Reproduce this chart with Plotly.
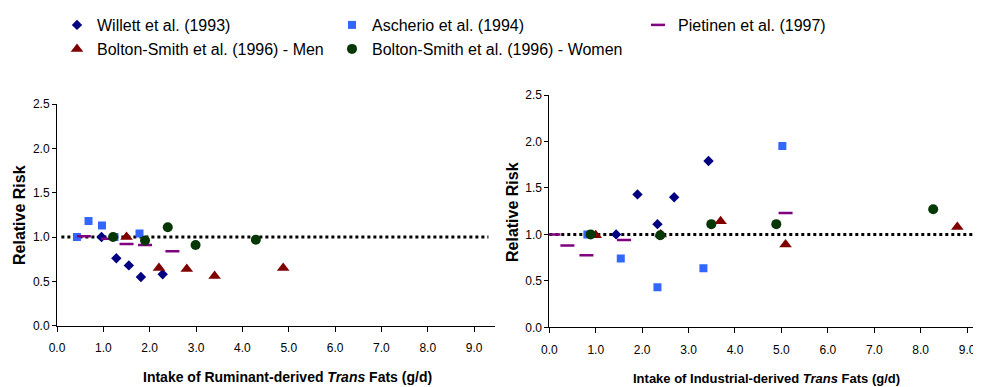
import plotly.graph_objects as go

# ---------------- data ----------------
# Ruminant-derived trans fats (left panel)
rum_willett_x = [0.96, 1.28, 1.55, 1.81, 2.28]
rum_willett_y = [1.00, 0.76, 0.68, 0.55, 0.58]
rum_ascherio_x = [0.43, 0.68, 0.97, 1.24, 1.78]
rum_ascherio_y = [1.00, 1.18, 1.13, 1.00, 1.04]
rum_pietinen_x = [0.58, 1.10, 1.50, 1.90, 2.49]
rum_pietinen_y = [1.01, 0.98, 0.92, 0.91, 0.84]
rum_men_x = [1.50, 2.20, 2.80, 3.40, 4.88]
rum_men_y = [1.00, 0.65, 0.64, 0.56, 0.65]
rum_women_x = [1.21, 1.90, 2.39, 2.99, 4.29]
rum_women_y = [1.00, 0.96, 1.11, 0.91, 0.97]

# Industrial-derived trans fats (right panel)
ind_willett_x = [1.44, 1.90, 2.33, 2.69, 3.43]
ind_willett_y = [1.00, 1.43, 1.11, 1.40, 1.79]
ind_ascherio_x = [0.82, 1.54, 2.33, 3.32, 5.02]
ind_ascherio_y = [1.00, 0.74, 0.43, 0.635, 1.95]
ind_pietinen_x = [0.09, 0.39, 0.80, 1.61, 5.09]
ind_pietinen_y = [1.00, 0.88, 0.775, 0.94, 1.23]
ind_men_x = [1.00, 2.40, 3.69, 5.09, 8.79]
ind_men_y = [0.99, 1.00, 1.14, 0.89, 1.08]
ind_women_x = [0.89, 2.39, 3.49, 4.89, 8.27]
ind_women_y = [1.00, 0.99, 1.11, 1.11, 1.27]

reference_rr = 1.0

x_tick_vals = [0, 1, 2, 3, 4, 5, 6, 7, 8, 9]
x_tick_text = ["0.0", "1.0", "2.0", "3.0", "4.0", "5.0", "6.0", "7.0", "8.0", "9.0"]
y_tick_vals = [0, 0.5, 1.0, 1.5, 2.0, 2.5]
y_tick_text = ["0.0", "0.5", "1.0", "1.5", "2.0", "2.5"]

series_names = [
    "Willett et al. (1993)",
    "Ascherio et al. (1994)",
    "Pietinen et al. (1997)",
    "Bolton-Smith et al. (1996) - Men",
    "Bolton-Smith et al. (1996) - Women",
]

# ---------------- styles ----------------
FONT = "Liberation Sans, Arial, sans-serif"
styles = [
    dict(symbol="diamond", size=8, color="#000080"),
    dict(symbol="square", size=8, color="#3366FF"),
    dict(symbol="line-ew", size=10, color="#800080"),
    dict(symbol="triangle-up", size=11, color="#800000"),
    dict(symbol="circle", size=10, color="#063806"),
]
legend_ids = ["legend", "legend2", "legend3", "legend4", "legend5"]

left = [(rum_willett_x, rum_willett_y), (rum_ascherio_x, rum_ascherio_y),
        (rum_pietinen_x, rum_pietinen_y), (rum_men_x, rum_men_y),
        (rum_women_x, rum_women_y)]
right = [(ind_willett_x, ind_willett_y), (ind_ascherio_x, ind_ascherio_y),
         (ind_pietinen_x, ind_pietinen_y), (ind_men_x, ind_men_y),
         (ind_women_x, ind_women_y)]

fig = go.Figure()


def marker_of(st):
    m = dict(symbol=st["symbol"], size=st["size"], color=st["color"])
    if st["symbol"] == "line-ew":
        m["line"] = dict(color=st["color"], width=2.5)
    else:
        m["line"] = dict(width=0)
    return m


for i, (name, st) in enumerate(zip(series_names, styles)):
    xs, ys = left[i]
    fig.add_trace(go.Scatter(x=xs, y=ys, mode="markers", name=name,
                             marker=marker_of(st), xaxis="x", yaxis="y",
                             legend=legend_ids[i], showlegend=True))
    xs, ys = right[i]
    fig.add_trace(go.Scatter(x=xs, y=ys, mode="markers", name=name,
                             marker=marker_of(st), xaxis="x2", yaxis="y2",
                             showlegend=False))

# page body has an 8px margin: lay the figure out in window pixels minus it
OFF = 8
W, H = 981 - OFF, 387 - OFF


def px_x(p):
    return (p - OFF) / W


def px_y(p):
    return 1 - (p - OFF) / H


axis_common = dict(showline=True, linecolor="black", linewidth=1,
                   ticks="outside", tickcolor="black", ticklen=5,
                   showgrid=False, zeroline=False, automargin=False,
                   tickfont=dict(family=FONT, size=12, color="black"))

fig.update_layout(
    width=W, height=H,
    margin=dict(l=0, r=0, t=0, b=0, autoexpand=False),
    paper_bgcolor="white", plot_bgcolor="white",
    font=dict(family=FONT, color="black"),
    xaxis=dict(domain=[px_x(57), px_x(495)], range=[0, 9.45], anchor="y",
               tickvals=x_tick_vals, ticktext=x_tick_text,
               ticklabelstandoff=6, **axis_common),
    yaxis=dict(domain=[px_y(325.7), px_y(104)], range=[0, 2.5], anchor="x",
               tickvals=y_tick_vals, ticktext=y_tick_text, **{**axis_common, "ticklen": 4}),
    xaxis2=dict(domain=[px_x(549.3), 1.0], range=[0, 9.30], anchor="y2",
                tickvals=x_tick_vals, ticktext=x_tick_text,
                ticklabelstandoff=6, **axis_common),
    yaxis2=dict(domain=[px_y(327.3), px_y(95)], range=[0, 2.5], anchor="x2",
                tickvals=y_tick_vals, ticktext=y_tick_text, **{**axis_common, "ticklen": 4}),
    showlegend=True,
)

# reference lines at RR = 1
fig.add_shape(type="line", xref="x domain", yref="y", x0=0.01, x1=0.985,
              y0=reference_rr, y1=reference_rr,
              line=dict(color="black", width=3, dash="dot"), layer="below")
fig.add_shape(type="line", xref="x2 domain", yref="y2", x0=0.0, x1=1.0,
              y0=reference_rr, y1=reference_rr,
              line=dict(color="black", width=3, dash="dot"), layer="below")

# legends (positions in window pixels)
legend_pos = [(57, -2), (332, -2), (638, 8), (57, 32), (332, 32)]
for lid, (lx, ly) in zip(legend_ids, legend_pos):
    fig.update_layout(**{lid: dict(
        xref="container", yref="container",
        x=max(lx - OFF, 0) / W, y=1 - (ly - OFF) / H,
        xanchor="left", yanchor="top",
        bgcolor="rgba(0,0,0,0)", borderwidth=0,
        font=dict(family=FONT, size=16, color="black"),
        itemwidth=30,
    )})

# axis titles
title_font = dict(family=FONT, size=16, color="black", weight="bold")
fig.add_annotation(text="Relative Risk", xref="paper", yref="paper",
                   x=px_x(19), y=px_y(215), xanchor="center", yanchor="middle",
                   textangle=-90, showarrow=False, font=title_font)
fig.add_annotation(text="Relative Risk", xref="paper", yref="paper",
                   x=px_x(512), y=px_y(212), xanchor="center", yanchor="middle",
                   textangle=-90, showarrow=False, font=title_font)
fig.add_annotation(text="Intake of Ruminant-derived <i>Trans</i> Fats (g/d)",
                   xref="paper", yref="paper", x=px_x(287.5), y=px_y(376.5),
                   xanchor="center", yanchor="middle", showarrow=False,
                   font=dict(family=FONT, size=14, color="black", weight="bold"))
fig.add_annotation(text="Intake of Industrial-derived <i>Trans</i> Fats (g/d)",
                   xref="paper", yref="paper", x=px_x(766), y=px_y(378),
                   xanchor="center", yanchor="middle", showarrow=False,
                   font=dict(family=FONT, size=13, color="black", weight="bold"))

fig.write_html("out.html")
